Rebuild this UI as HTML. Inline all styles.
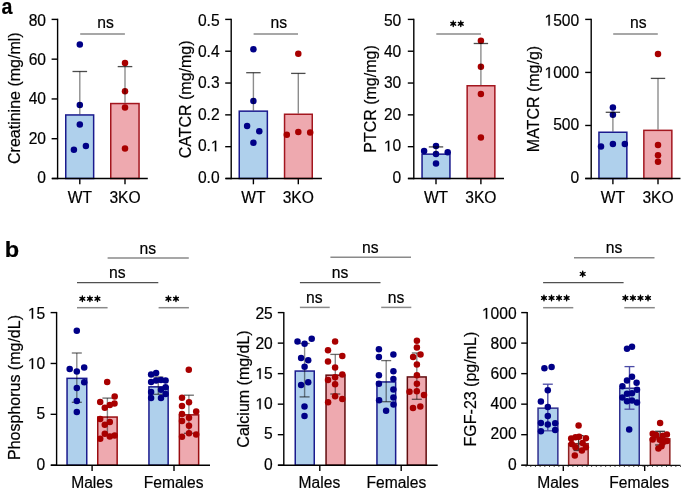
<!DOCTYPE html>
<html><head><meta charset="utf-8"><style>
html,body{margin:0;padding:0;background:#fff;}
svg{display:block;font-family:"Liberation Sans", sans-serif;will-change:transform;}
text{stroke:#000;stroke-width:0.2px;}
</style></head><body>
<svg width="685" height="492" viewBox="0 0 685 492">
<text x="0" y="0" font-size="21.3" font-weight="bold" transform="translate(1.5,14.0) scale(0.92,1)">a</text>
<text x="0" y="0" font-size="22" font-weight="bold" transform="translate(4.8,256.9) scale(1.07,1)">b</text>
<line x1="57.60" y1="18.70" x2="57.60" y2="179.20" stroke="#000" stroke-width="1.4" />
<line x1="51.60" y1="178.50" x2="57.60" y2="178.50" stroke="#000" stroke-width="1.4" />
<text x="46.00" y="182.80" font-size="15.6" text-anchor="end" >0</text>
<line x1="51.60" y1="138.72" x2="57.60" y2="138.72" stroke="#000" stroke-width="1.4" />
<text x="46.00" y="143.50" font-size="15.6" text-anchor="end" >20</text>
<line x1="51.60" y1="98.95" x2="57.60" y2="98.95" stroke="#000" stroke-width="1.4" />
<text x="46.00" y="104.20" font-size="15.6" text-anchor="end" >40</text>
<line x1="51.60" y1="59.17" x2="57.60" y2="59.17" stroke="#000" stroke-width="1.4" />
<text x="46.00" y="64.90" font-size="15.6" text-anchor="end" >60</text>
<line x1="51.60" y1="19.40" x2="57.60" y2="19.40" stroke="#000" stroke-width="1.4" />
<text x="46.00" y="25.60" font-size="15.6" text-anchor="end" >80</text>
<line x1="79.80" y1="178.50" x2="79.80" y2="184.30" stroke="#000" stroke-width="1.4" />
<line x1="125.00" y1="178.50" x2="125.00" y2="184.30" stroke="#000" stroke-width="1.4" />
<rect x="65.75" y="114.95" width="27.90" height="63.55" fill="#afd0ec" stroke="#1a1a8e" stroke-width="1.5"/>
<rect x="110.75" y="103.55" width="28.30" height="74.95" fill="#eea9af" stroke="#a3161e" stroke-width="1.5"/>
<circle cx="79.80" cy="44.60" r="3.25" fill="#000087"/>
<circle cx="79.80" cy="104.90" r="3.25" fill="#000087"/>
<circle cx="79.80" cy="124.40" r="3.25" fill="#000087"/>
<circle cx="73.90" cy="149.80" r="3.25" fill="#000087"/>
<circle cx="85.90" cy="146.10" r="3.25" fill="#000087"/>
<circle cx="125.00" cy="62.90" r="3.25" fill="#a80000"/>
<circle cx="125.00" cy="91.20" r="3.25" fill="#a80000"/>
<circle cx="125.00" cy="107.50" r="3.25" fill="#a80000"/>
<circle cx="125.00" cy="148.50" r="3.25" fill="#a80000"/>
<line x1="79.80" y1="71.50" x2="79.80" y2="114.20" stroke="rgba(0,0,0,0.45)" stroke-width="1.4" />
<line x1="72.50" y1="71.50" x2="87.10" y2="71.50" stroke="rgba(0,0,0,0.7)" stroke-width="1.3" />
<line x1="125.00" y1="66.60" x2="125.00" y2="102.80" stroke="rgba(0,0,0,0.45)" stroke-width="1.4" />
<line x1="117.70" y1="66.60" x2="132.30" y2="66.60" stroke="rgba(0,0,0,0.7)" stroke-width="1.3" />
<line x1="80.20" y1="33.90" x2="124.90" y2="33.90" stroke="#8a8a8a" stroke-width="1.5" />
<text x="105.50" y="28.20" font-size="15.7" text-anchor="middle" >ns</text>
<text x="79.80" y="202.60" font-size="15.6" text-anchor="middle" >WT</text>
<text x="125.00" y="202.60" font-size="15.6" text-anchor="middle" >3KO</text>
<text x="0" y="0" font-size="16.0" text-anchor="middle" transform="translate(20.30,98.20) rotate(-90)">Creatinine (mg/ml)</text>
<line x1="231.20" y1="18.70" x2="231.20" y2="179.20" stroke="#000" stroke-width="1.4" />
<line x1="225.20" y1="178.50" x2="231.20" y2="178.50" stroke="#000" stroke-width="1.4" />
<text x="219.60" y="182.80" font-size="15.6" text-anchor="end" >0.0</text>
<line x1="225.20" y1="146.68" x2="231.20" y2="146.68" stroke="#000" stroke-width="1.4" />
<path d="M214.85 151.36L214.85 141.94L212.42 143.67L212.42 142.37L214.96 140.63L216.23 140.63L216.23 151.36Z" fill="#000" stroke="#000" stroke-width="0.2"/>
<text x="219.60" y="151.36" font-size="15.6" text-anchor="end" >0.&#8199;</text>
<line x1="225.20" y1="114.86" x2="231.20" y2="114.86" stroke="#000" stroke-width="1.4" />
<text x="219.60" y="119.92" font-size="15.6" text-anchor="end" >0.2</text>
<line x1="225.20" y1="83.04" x2="231.20" y2="83.04" stroke="#000" stroke-width="1.4" />
<text x="219.60" y="88.48" font-size="15.6" text-anchor="end" >0.3</text>
<line x1="225.20" y1="51.22" x2="231.20" y2="51.22" stroke="#000" stroke-width="1.4" />
<text x="219.60" y="57.04" font-size="15.6" text-anchor="end" >0.4</text>
<line x1="225.20" y1="19.40" x2="231.20" y2="19.40" stroke="#000" stroke-width="1.4" />
<text x="219.60" y="25.60" font-size="15.6" text-anchor="end" >0.5</text>
<line x1="253.40" y1="178.50" x2="253.40" y2="184.30" stroke="#000" stroke-width="1.4" />
<line x1="298.30" y1="178.50" x2="298.30" y2="184.30" stroke="#000" stroke-width="1.4" />
<rect x="239.25" y="111.15" width="28.10" height="67.35" fill="#afd0ec" stroke="#1a1a8e" stroke-width="1.5"/>
<rect x="284.55" y="114.25" width="27.70" height="64.25" fill="#eea9af" stroke="#a3161e" stroke-width="1.5"/>
<circle cx="253.40" cy="49.30" r="3.25" fill="#000087"/>
<circle cx="253.40" cy="100.90" r="3.25" fill="#000087"/>
<circle cx="247.10" cy="126.10" r="3.25" fill="#000087"/>
<circle cx="259.30" cy="131.20" r="3.25" fill="#000087"/>
<circle cx="253.40" cy="142.70" r="3.25" fill="#000087"/>
<circle cx="298.30" cy="53.70" r="3.25" fill="#a80000"/>
<circle cx="286.80" cy="134.70" r="3.25" fill="#a80000"/>
<circle cx="298.30" cy="132.10" r="3.25" fill="#a80000"/>
<circle cx="310.20" cy="132.40" r="3.25" fill="#a80000"/>
<line x1="253.40" y1="72.70" x2="253.40" y2="110.40" stroke="rgba(0,0,0,0.45)" stroke-width="1.4" />
<line x1="246.20" y1="72.70" x2="260.60" y2="72.70" stroke="rgba(0,0,0,0.7)" stroke-width="1.3" />
<line x1="298.30" y1="73.40" x2="298.30" y2="113.50" stroke="rgba(0,0,0,0.45)" stroke-width="1.4" />
<line x1="291.10" y1="73.40" x2="305.50" y2="73.40" stroke="rgba(0,0,0,0.7)" stroke-width="1.3" />
<line x1="253.60" y1="34.10" x2="298.00" y2="34.10" stroke="#8a8a8a" stroke-width="1.5" />
<text x="278.80" y="28.20" font-size="15.7" text-anchor="middle" >ns</text>
<text x="253.40" y="202.60" font-size="15.6" text-anchor="middle" >WT</text>
<text x="298.30" y="202.60" font-size="15.6" text-anchor="middle" >3KO</text>
<text x="0" y="0" font-size="16.0" text-anchor="middle" transform="translate(191.30,99.40) rotate(-90)">CATCR (mg/mg)</text>
<line x1="413.80" y1="18.70" x2="413.80" y2="179.20" stroke="#000" stroke-width="1.4" />
<line x1="407.80" y1="178.50" x2="413.80" y2="178.50" stroke="#000" stroke-width="1.4" />
<text x="401.30" y="182.80" font-size="15.6" text-anchor="end" >0</text>
<line x1="407.80" y1="146.68" x2="413.80" y2="146.68" stroke="#000" stroke-width="1.4" />
<path d="M387.87 151.36L387.87 141.94L385.45 143.67L385.45 142.37L387.99 140.63L389.25 140.63L389.25 151.36Z" fill="#000" stroke="#000" stroke-width="0.2"/>
<text x="401.30" y="151.36" font-size="15.6" text-anchor="end" >&#8199;0</text>
<line x1="407.80" y1="114.86" x2="413.80" y2="114.86" stroke="#000" stroke-width="1.4" />
<text x="401.30" y="119.92" font-size="15.6" text-anchor="end" >20</text>
<line x1="407.80" y1="83.04" x2="413.80" y2="83.04" stroke="#000" stroke-width="1.4" />
<text x="401.30" y="88.48" font-size="15.6" text-anchor="end" >30</text>
<line x1="407.80" y1="51.22" x2="413.80" y2="51.22" stroke="#000" stroke-width="1.4" />
<text x="401.30" y="57.04" font-size="15.6" text-anchor="end" >40</text>
<line x1="407.80" y1="19.40" x2="413.80" y2="19.40" stroke="#000" stroke-width="1.4" />
<text x="401.30" y="25.60" font-size="15.6" text-anchor="end" >50</text>
<line x1="436.00" y1="178.50" x2="436.00" y2="184.30" stroke="#000" stroke-width="1.4" />
<line x1="480.90" y1="178.50" x2="480.90" y2="184.30" stroke="#000" stroke-width="1.4" />
<rect x="422.05" y="154.15" width="27.90" height="24.35" fill="#afd0ec" stroke="#1a1a8e" stroke-width="1.5"/>
<rect x="467.15" y="85.75" width="27.70" height="92.75" fill="#eea9af" stroke="#a3161e" stroke-width="1.5"/>
<circle cx="436.00" cy="145.90" r="3.25" fill="#000087"/>
<circle cx="424.10" cy="151.10" r="3.25" fill="#000087"/>
<circle cx="436.00" cy="153.90" r="3.25" fill="#000087"/>
<circle cx="447.70" cy="152.20" r="3.25" fill="#000087"/>
<circle cx="436.00" cy="163.50" r="3.25" fill="#000087"/>
<circle cx="480.90" cy="40.70" r="3.25" fill="#a80000"/>
<circle cx="480.90" cy="66.80" r="3.25" fill="#a80000"/>
<circle cx="480.90" cy="93.90" r="3.25" fill="#a80000"/>
<circle cx="480.90" cy="137.50" r="3.25" fill="#a80000"/>
<line x1="436.00" y1="146.90" x2="436.00" y2="153.40" stroke="rgba(0,0,0,0.45)" stroke-width="1.4" />
<line x1="428.80" y1="146.90" x2="443.20" y2="146.90" stroke="rgba(0,0,0,0.7)" stroke-width="1.3" />
<line x1="480.90" y1="43.50" x2="480.90" y2="85.00" stroke="rgba(0,0,0,0.45)" stroke-width="1.4" />
<line x1="473.70" y1="43.50" x2="488.10" y2="43.50" stroke="rgba(0,0,0,0.7)" stroke-width="1.3" />
<line x1="436.30" y1="34.10" x2="480.90" y2="34.10" stroke="#8a8a8a" stroke-width="1.5" />
<path d="M453.23 21.00L453.23 26.60M450.80 22.40L455.65 25.20M450.80 25.20L455.65 22.40" stroke="#000" stroke-width="1.35" stroke-linecap="round"/>
<circle cx="453.23" cy="23.80" r="1.65" fill="#000"/>
<path d="M460.78 21.00L460.78 26.60M458.35 22.40L463.20 25.20M458.35 25.20L463.20 22.40" stroke="#000" stroke-width="1.35" stroke-linecap="round"/>
<circle cx="460.78" cy="23.80" r="1.65" fill="#000"/>
<text x="436.00" y="202.60" font-size="15.6" text-anchor="middle" >WT</text>
<text x="480.90" y="202.60" font-size="15.6" text-anchor="middle" >3KO</text>
<text x="0" y="0" font-size="16.0" text-anchor="middle" transform="translate(376.00,99.00) rotate(-90)">PTCR (mg/mg)</text>
<line x1="591.20" y1="18.70" x2="591.20" y2="179.20" stroke="#000" stroke-width="1.4" />
<line x1="585.20" y1="178.50" x2="591.20" y2="178.50" stroke="#000" stroke-width="1.4" />
<text x="579.20" y="182.80" font-size="15.6" text-anchor="end" >0</text>
<line x1="585.20" y1="125.47" x2="591.20" y2="125.47" stroke="#000" stroke-width="1.4" />
<text x="579.20" y="130.40" font-size="15.6" text-anchor="end" >500</text>
<line x1="585.20" y1="72.43" x2="591.20" y2="72.43" stroke="#000" stroke-width="1.4" />
<path d="M548.42 78.00L548.42 68.58L546.00 70.31L546.00 69.01L548.53 67.27L549.80 67.27L549.80 78.00Z" fill="#000" stroke="#000" stroke-width="0.2"/>
<text x="579.20" y="78.00" font-size="15.6" text-anchor="end" >&#8199;000</text>
<line x1="585.20" y1="19.40" x2="591.20" y2="19.40" stroke="#000" stroke-width="1.4" />
<path d="M548.42 25.60L548.42 16.18L546.00 17.91L546.00 16.61L548.53 14.87L549.80 14.87L549.80 25.60Z" fill="#000" stroke="#000" stroke-width="0.2"/>
<text x="579.20" y="25.60" font-size="15.6" text-anchor="end" >&#8199;500</text>
<line x1="612.90" y1="178.50" x2="612.90" y2="184.30" stroke="#000" stroke-width="1.4" />
<line x1="658.00" y1="178.50" x2="658.00" y2="184.30" stroke="#000" stroke-width="1.4" />
<rect x="598.95" y="132.25" width="27.90" height="46.25" fill="#afd0ec" stroke="#1a1a8e" stroke-width="1.5"/>
<rect x="643.85" y="130.35" width="28.00" height="48.15" fill="#eea9af" stroke="#a3161e" stroke-width="1.5"/>
<circle cx="612.90" cy="107.40" r="3.25" fill="#000087"/>
<circle cx="612.90" cy="114.70" r="3.25" fill="#000087"/>
<circle cx="601.00" cy="146.60" r="3.25" fill="#000087"/>
<circle cx="612.90" cy="143.90" r="3.25" fill="#000087"/>
<circle cx="624.80" cy="144.10" r="3.25" fill="#000087"/>
<circle cx="658.00" cy="53.90" r="3.25" fill="#a80000"/>
<circle cx="658.00" cy="145.00" r="3.25" fill="#a80000"/>
<circle cx="658.00" cy="155.20" r="3.25" fill="#a80000"/>
<circle cx="658.00" cy="161.70" r="3.25" fill="#a80000"/>
<line x1="612.90" y1="112.30" x2="612.90" y2="131.50" stroke="rgba(0,0,0,0.45)" stroke-width="1.4" />
<line x1="605.70" y1="112.30" x2="620.10" y2="112.30" stroke="rgba(0,0,0,0.7)" stroke-width="1.3" />
<line x1="658.00" y1="78.40" x2="658.00" y2="129.60" stroke="rgba(0,0,0,0.45)" stroke-width="1.4" />
<line x1="650.80" y1="78.40" x2="665.20" y2="78.40" stroke="rgba(0,0,0,0.7)" stroke-width="1.3" />
<line x1="613.20" y1="33.90" x2="657.80" y2="33.90" stroke="#8a8a8a" stroke-width="1.5" />
<text x="638.40" y="28.20" font-size="15.7" text-anchor="middle" >ns</text>
<text x="612.90" y="202.60" font-size="15.6" text-anchor="middle" >WT</text>
<text x="658.00" y="202.60" font-size="15.6" text-anchor="middle" >3KO</text>
<text x="0" y="0" font-size="16.0" text-anchor="middle" transform="translate(538.50,99.00) rotate(-90)">MATCR (mg/g)</text>
<line x1="56.60" y1="311.90" x2="56.60" y2="465.90" stroke="#000" stroke-width="1.4" />
<line x1="50.60" y1="465.20" x2="56.60" y2="465.20" stroke="#000" stroke-width="1.4" />
<text x="45.20" y="469.50" font-size="15.6" text-anchor="end" >0</text>
<line x1="50.60" y1="414.33" x2="56.60" y2="414.33" stroke="#000" stroke-width="1.4" />
<text x="45.20" y="419.27" font-size="15.6" text-anchor="end" >5</text>
<line x1="50.60" y1="363.47" x2="56.60" y2="363.47" stroke="#000" stroke-width="1.4" />
<path d="M31.77 369.03L31.77 359.61L29.35 361.34L29.35 360.05L31.89 358.30L33.15 358.30L33.15 369.03Z" fill="#000" stroke="#000" stroke-width="0.2"/>
<text x="45.20" y="369.03" font-size="15.6" text-anchor="end" >&#8199;0</text>
<line x1="50.60" y1="312.60" x2="56.60" y2="312.60" stroke="#000" stroke-width="1.4" />
<path d="M31.77 318.80L31.77 309.38L29.35 311.11L29.35 309.81L31.89 308.07L33.15 308.07L33.15 318.80Z" fill="#000" stroke="#000" stroke-width="0.2"/>
<text x="45.20" y="318.80" font-size="15.6" text-anchor="end" >&#8199;5</text>
<line x1="92.10" y1="465.20" x2="92.10" y2="470.90" stroke="#000" stroke-width="1.4" />
<line x1="174.00" y1="465.20" x2="174.00" y2="470.90" stroke="#000" stroke-width="1.4" />
<rect x="67.05" y="378.35" width="19.70" height="86.85" fill="#afd0ec" stroke="#1a1a8e" stroke-width="1.5"/>
<rect x="97.75" y="417.05" width="19.40" height="48.15" fill="#eea9af" stroke="#9a0c10" stroke-width="1.5"/>
<rect x="148.95" y="386.85" width="19.20" height="78.35" fill="#afd0ec" stroke="#1a1a8e" stroke-width="1.5"/>
<rect x="179.35" y="414.85" width="19.30" height="50.35" fill="#eea9af" stroke="#9a0c10" stroke-width="1.5"/>
<line x1="76.80" y1="353.00" x2="76.80" y2="402.30" stroke="rgba(0,0,0,0.45)" stroke-width="1.4" />
<line x1="71.80" y1="353.00" x2="81.80" y2="353.00" stroke="rgba(0,0,0,0.58)" stroke-width="1.3" />
<line x1="71.80" y1="402.30" x2="81.80" y2="402.30" stroke="rgba(0,0,0,0.58)" stroke-width="1.3" />
<line x1="107.40" y1="398.10" x2="107.40" y2="434.50" stroke="rgba(0,0,0,0.45)" stroke-width="1.4" />
<line x1="102.40" y1="398.10" x2="112.40" y2="398.10" stroke="rgba(0,0,0,0.58)" stroke-width="1.3" />
<line x1="102.40" y1="434.50" x2="112.40" y2="434.50" stroke="rgba(0,0,0,0.58)" stroke-width="1.3" />
<line x1="158.30" y1="377.00" x2="158.30" y2="394.30" stroke="rgba(0,0,0,0.45)" stroke-width="1.4" />
<line x1="153.30" y1="377.00" x2="163.30" y2="377.00" stroke="rgba(0,0,0,0.58)" stroke-width="1.3" />
<line x1="153.30" y1="394.30" x2="163.30" y2="394.30" stroke="rgba(0,0,0,0.58)" stroke-width="1.3" />
<line x1="188.90" y1="395.20" x2="188.90" y2="433.30" stroke="rgba(0,0,0,0.45)" stroke-width="1.4" />
<line x1="183.90" y1="395.20" x2="193.90" y2="395.20" stroke="rgba(0,0,0,0.58)" stroke-width="1.3" />
<line x1="183.90" y1="433.30" x2="193.90" y2="433.30" stroke="rgba(0,0,0,0.58)" stroke-width="1.3" />
<circle cx="76.80" cy="330.70" r="3.25" fill="#000087"/>
<circle cx="69.70" cy="369.10" r="3.25" fill="#000087"/>
<circle cx="84.20" cy="367.40" r="3.25" fill="#000087"/>
<circle cx="76.80" cy="371.50" r="3.25" fill="#000087"/>
<circle cx="84.20" cy="382.30" r="3.25" fill="#000087"/>
<circle cx="76.80" cy="388.00" r="3.25" fill="#000087"/>
<circle cx="76.80" cy="400.90" r="3.25" fill="#000087"/>
<circle cx="76.80" cy="412.10" r="3.25" fill="#000087"/>
<circle cx="107.20" cy="382.00" r="3.25" fill="#a80000"/>
<circle cx="114.70" cy="396.40" r="3.25" fill="#a80000"/>
<circle cx="100.20" cy="402.00" r="3.25" fill="#a80000"/>
<circle cx="109.80" cy="404.90" r="3.25" fill="#a80000"/>
<circle cx="114.50" cy="403.50" r="3.25" fill="#a80000"/>
<circle cx="104.80" cy="407.70" r="3.25" fill="#a80000"/>
<circle cx="100.20" cy="419.10" r="3.25" fill="#a80000"/>
<circle cx="109.80" cy="422.00" r="3.25" fill="#a80000"/>
<circle cx="104.80" cy="424.80" r="3.25" fill="#a80000"/>
<circle cx="104.80" cy="433.80" r="3.25" fill="#a80000"/>
<circle cx="109.80" cy="436.60" r="3.25" fill="#a80000"/>
<circle cx="114.70" cy="435.50" r="3.25" fill="#a80000"/>
<circle cx="100.20" cy="438.70" r="3.25" fill="#a80000"/>
<circle cx="151.10" cy="374.40" r="3.25" fill="#000087"/>
<circle cx="156.10" cy="373.00" r="3.25" fill="#000087"/>
<circle cx="151.10" cy="381.90" r="3.25" fill="#000087"/>
<circle cx="156.10" cy="380.50" r="3.25" fill="#000087"/>
<circle cx="161.00" cy="380.10" r="3.25" fill="#000087"/>
<circle cx="165.60" cy="380.50" r="3.25" fill="#000087"/>
<circle cx="165.60" cy="387.30" r="3.25" fill="#000087"/>
<circle cx="151.10" cy="392.00" r="3.25" fill="#000087"/>
<circle cx="161.00" cy="389.80" r="3.25" fill="#000087"/>
<circle cx="165.60" cy="394.10" r="3.25" fill="#000087"/>
<circle cx="151.10" cy="397.90" r="3.25" fill="#000087"/>
<circle cx="161.00" cy="397.90" r="3.25" fill="#000087"/>
<circle cx="188.80" cy="369.80" r="3.25" fill="#a80000"/>
<circle cx="182.00" cy="397.70" r="3.25" fill="#a80000"/>
<circle cx="189.00" cy="402.30" r="3.25" fill="#a80000"/>
<circle cx="182.00" cy="405.90" r="3.25" fill="#a80000"/>
<circle cx="196.20" cy="411.60" r="3.25" fill="#a80000"/>
<circle cx="182.00" cy="414.10" r="3.25" fill="#a80000"/>
<circle cx="189.00" cy="417.70" r="3.25" fill="#a80000"/>
<circle cx="182.00" cy="421.00" r="3.25" fill="#a80000"/>
<circle cx="189.00" cy="425.80" r="3.25" fill="#a80000"/>
<circle cx="189.00" cy="433.30" r="3.25" fill="#a80000"/>
<circle cx="196.20" cy="434.60" r="3.25" fill="#a80000"/>
<circle cx="182.00" cy="436.70" r="3.25" fill="#a80000"/>
<line x1="107.60" y1="258.10" x2="188.80" y2="258.10" stroke="#8a8a8a" stroke-width="1.5" />
<text x="147.80" y="253.60" font-size="15.7" text-anchor="middle" >ns</text>
<line x1="77.00" y1="282.60" x2="158.30" y2="282.60" stroke="#505050" stroke-width="1.1" />
<text x="117.40" y="277.90" font-size="15.7" text-anchor="middle" >ns</text>
<line x1="77.00" y1="307.70" x2="107.60" y2="307.70" stroke="#8a8a8a" stroke-width="1.5" />
<path d="M82.35 296.00L82.35 301.60M79.93 297.40L84.77 300.20M79.93 300.20L84.77 297.40" stroke="#000" stroke-width="1.35" stroke-linecap="round"/>
<circle cx="82.35" cy="298.80" r="1.65" fill="#000"/>
<path d="M89.90 296.00L89.90 301.60M87.48 297.40L92.32 300.20M87.48 300.20L92.32 297.40" stroke="#000" stroke-width="1.35" stroke-linecap="round"/>
<circle cx="89.90" cy="298.80" r="1.65" fill="#000"/>
<path d="M97.45 296.00L97.45 301.60M95.03 297.40L99.87 300.20M95.03 300.20L99.87 297.40" stroke="#000" stroke-width="1.35" stroke-linecap="round"/>
<circle cx="97.45" cy="298.80" r="1.65" fill="#000"/>
<line x1="158.60" y1="307.70" x2="188.90" y2="307.70" stroke="#8a8a8a" stroke-width="1.5" />
<path d="M168.42 296.00L168.42 301.60M166.00 297.40L170.85 300.20M166.00 300.20L170.85 297.40" stroke="#000" stroke-width="1.35" stroke-linecap="round"/>
<circle cx="168.42" cy="298.80" r="1.65" fill="#000"/>
<path d="M175.97 296.00L175.97 301.60M173.55 297.40L178.40 300.20M173.55 300.20L178.40 297.40" stroke="#000" stroke-width="1.35" stroke-linecap="round"/>
<circle cx="175.97" cy="298.80" r="1.65" fill="#000"/>
<text x="92.00" y="487.50" font-size="15.6" text-anchor="middle" >Males</text>
<text x="173.60" y="487.50" font-size="15.6" text-anchor="middle" >Females</text>
<text x="0" y="0" font-size="16.0" text-anchor="middle" transform="translate(20.30,387.50) rotate(-90)">Phosphorus (mg/dL)</text>
<line x1="283.80" y1="311.90" x2="283.80" y2="465.90" stroke="#000" stroke-width="1.4" />
<line x1="277.80" y1="465.20" x2="283.80" y2="465.20" stroke="#000" stroke-width="1.4" />
<text x="272.80" y="469.50" font-size="15.6" text-anchor="end" >0</text>
<line x1="277.80" y1="434.68" x2="283.80" y2="434.68" stroke="#000" stroke-width="1.4" />
<text x="272.80" y="439.36" font-size="15.6" text-anchor="end" >5</text>
<line x1="277.80" y1="404.16" x2="283.80" y2="404.16" stroke="#000" stroke-width="1.4" />
<path d="M259.37 409.22L259.37 399.80L256.95 401.53L256.95 400.23L259.49 398.49L260.75 398.49L260.75 409.22Z" fill="#000" stroke="#000" stroke-width="0.2"/>
<text x="272.80" y="409.22" font-size="15.6" text-anchor="end" >&#8199;0</text>
<line x1="277.80" y1="373.64" x2="283.80" y2="373.64" stroke="#000" stroke-width="1.4" />
<path d="M259.37 379.08L259.37 369.66L256.95 371.39L256.95 370.09L259.49 368.35L260.75 368.35L260.75 379.08Z" fill="#000" stroke="#000" stroke-width="0.2"/>
<text x="272.80" y="379.08" font-size="15.6" text-anchor="end" >&#8199;5</text>
<line x1="277.80" y1="343.12" x2="283.80" y2="343.12" stroke="#000" stroke-width="1.4" />
<text x="272.80" y="348.94" font-size="15.6" text-anchor="end" >20</text>
<line x1="277.80" y1="312.60" x2="283.80" y2="312.60" stroke="#000" stroke-width="1.4" />
<text x="272.80" y="318.80" font-size="15.6" text-anchor="end" >25</text>
<line x1="319.80" y1="465.20" x2="319.80" y2="470.90" stroke="#000" stroke-width="1.4" />
<line x1="401.20" y1="465.20" x2="401.20" y2="470.90" stroke="#000" stroke-width="1.4" />
<rect x="295.25" y="371.05" width="19.00" height="94.15" fill="#afd0ec" stroke="#1a1a8e" stroke-width="1.5"/>
<rect x="326.05" y="375.15" width="18.90" height="90.05" fill="#eea9af" stroke="#620c0e" stroke-width="1.5"/>
<rect x="376.95" y="381.95" width="18.70" height="83.25" fill="#afd0ec" stroke="#1a1a8e" stroke-width="1.5"/>
<rect x="407.35" y="376.95" width="18.80" height="88.25" fill="#eea9af" stroke="#620c0e" stroke-width="1.5"/>
<line x1="304.60" y1="343.50" x2="304.60" y2="396.90" stroke="rgba(0,0,0,0.45)" stroke-width="1.4" />
<line x1="299.60" y1="343.50" x2="309.60" y2="343.50" stroke="rgba(0,0,0,0.58)" stroke-width="1.3" />
<line x1="299.60" y1="396.90" x2="309.60" y2="396.90" stroke="rgba(0,0,0,0.58)" stroke-width="1.3" />
<line x1="335.30" y1="354.40" x2="335.30" y2="394.00" stroke="rgba(0,0,0,0.45)" stroke-width="1.4" />
<line x1="330.30" y1="354.40" x2="340.30" y2="354.40" stroke="rgba(0,0,0,0.58)" stroke-width="1.3" />
<line x1="330.30" y1="394.00" x2="340.30" y2="394.00" stroke="rgba(0,0,0,0.58)" stroke-width="1.3" />
<line x1="386.20" y1="360.60" x2="386.20" y2="401.70" stroke="rgba(0,0,0,0.45)" stroke-width="1.4" />
<line x1="381.20" y1="360.60" x2="391.20" y2="360.60" stroke="rgba(0,0,0,0.58)" stroke-width="1.3" />
<line x1="381.20" y1="401.70" x2="391.20" y2="401.70" stroke="rgba(0,0,0,0.58)" stroke-width="1.3" />
<line x1="416.80" y1="353.00" x2="416.80" y2="399.30" stroke="rgba(0,0,0,0.45)" stroke-width="1.4" />
<line x1="411.80" y1="353.00" x2="421.80" y2="353.00" stroke="rgba(0,0,0,0.58)" stroke-width="1.3" />
<line x1="411.80" y1="399.30" x2="421.80" y2="399.30" stroke="rgba(0,0,0,0.58)" stroke-width="1.3" />
<circle cx="297.50" cy="341.40" r="3.25" fill="#000087"/>
<circle cx="304.60" cy="343.80" r="3.25" fill="#000087"/>
<circle cx="311.70" cy="338.80" r="3.25" fill="#000087"/>
<circle cx="301.10" cy="358.00" r="3.25" fill="#000087"/>
<circle cx="308.20" cy="360.20" r="3.25" fill="#000087"/>
<circle cx="304.60" cy="366.70" r="3.25" fill="#000087"/>
<circle cx="308.20" cy="382.20" r="3.25" fill="#000087"/>
<circle cx="301.10" cy="385.00" r="3.25" fill="#000087"/>
<circle cx="304.50" cy="406.60" r="3.25" fill="#000087"/>
<circle cx="304.50" cy="416.00" r="3.25" fill="#000087"/>
<circle cx="335.10" cy="341.40" r="3.25" fill="#a80000"/>
<circle cx="328.00" cy="350.20" r="3.25" fill="#a80000"/>
<circle cx="342.30" cy="355.90" r="3.25" fill="#a80000"/>
<circle cx="328.00" cy="361.60" r="3.25" fill="#a80000"/>
<circle cx="335.10" cy="367.40" r="3.25" fill="#a80000"/>
<circle cx="342.30" cy="374.40" r="3.25" fill="#a80000"/>
<circle cx="335.10" cy="377.20" r="3.25" fill="#a80000"/>
<circle cx="328.00" cy="380.10" r="3.25" fill="#a80000"/>
<circle cx="335.10" cy="384.30" r="3.25" fill="#a80000"/>
<circle cx="335.10" cy="396.30" r="3.25" fill="#a80000"/>
<circle cx="342.30" cy="399.00" r="3.25" fill="#a80000"/>
<circle cx="328.10" cy="402.20" r="3.25" fill="#a80000"/>
<circle cx="378.90" cy="349.20" r="3.25" fill="#000087"/>
<circle cx="378.90" cy="357.00" r="3.25" fill="#000087"/>
<circle cx="393.40" cy="354.50" r="3.25" fill="#000087"/>
<circle cx="378.90" cy="375.20" r="3.25" fill="#000087"/>
<circle cx="393.40" cy="371.30" r="3.25" fill="#000087"/>
<circle cx="393.40" cy="379.10" r="3.25" fill="#000087"/>
<circle cx="378.90" cy="383.80" r="3.25" fill="#000087"/>
<circle cx="393.40" cy="389.50" r="3.25" fill="#000087"/>
<circle cx="393.40" cy="397.60" r="3.25" fill="#000087"/>
<circle cx="379.10" cy="400.20" r="3.25" fill="#000087"/>
<circle cx="393.50" cy="404.60" r="3.25" fill="#000087"/>
<circle cx="386.10" cy="410.80" r="3.25" fill="#000087"/>
<circle cx="416.90" cy="340.70" r="3.25" fill="#a80000"/>
<circle cx="416.90" cy="347.40" r="3.25" fill="#a80000"/>
<circle cx="413.10" cy="357.00" r="3.25" fill="#a80000"/>
<circle cx="420.50" cy="354.50" r="3.25" fill="#a80000"/>
<circle cx="416.90" cy="364.40" r="3.25" fill="#a80000"/>
<circle cx="416.90" cy="375.20" r="3.25" fill="#a80000"/>
<circle cx="416.90" cy="383.80" r="3.25" fill="#a80000"/>
<circle cx="409.50" cy="391.70" r="3.25" fill="#a80000"/>
<circle cx="416.80" cy="391.30" r="3.25" fill="#a80000"/>
<circle cx="424.00" cy="395.10" r="3.25" fill="#a80000"/>
<circle cx="413.00" cy="407.90" r="3.25" fill="#a80000"/>
<circle cx="420.30" cy="406.60" r="3.25" fill="#a80000"/>
<line x1="330.40" y1="257.20" x2="411.00" y2="257.20" stroke="#8a8a8a" stroke-width="1.5" />
<text x="370.20" y="252.60" font-size="15.7" text-anchor="middle" >ns</text>
<line x1="299.90" y1="282.60" x2="380.50" y2="282.60" stroke="#505050" stroke-width="1.1" />
<text x="340.00" y="277.80" font-size="15.7" text-anchor="middle" >ns</text>
<line x1="299.90" y1="307.40" x2="329.70" y2="307.40" stroke="#8a8a8a" stroke-width="1.5" />
<text x="314.40" y="302.80" font-size="15.7" text-anchor="middle" >ns</text>
<line x1="381.20" y1="307.40" x2="411.30" y2="307.40" stroke="#8a8a8a" stroke-width="1.5" />
<text x="396.10" y="302.80" font-size="15.7" text-anchor="middle" >ns</text>
<text x="319.40" y="487.50" font-size="15.6" text-anchor="middle" >Males</text>
<text x="396.40" y="487.50" font-size="15.6" text-anchor="middle" >Females</text>
<text x="0" y="0" font-size="16.0" text-anchor="middle" transform="translate(248.80,389.00) rotate(-90)">Calcium (mg/dL)</text>
<line x1="527.20" y1="311.90" x2="527.20" y2="465.90" stroke="#000" stroke-width="1.4" />
<line x1="521.20" y1="465.20" x2="527.20" y2="465.20" stroke="#000" stroke-width="1.4" />
<text x="516.60" y="469.50" font-size="15.6" text-anchor="end" >0</text>
<line x1="521.20" y1="434.68" x2="527.20" y2="434.68" stroke="#000" stroke-width="1.4" />
<text x="516.60" y="439.36" font-size="15.6" text-anchor="end" >200</text>
<line x1="521.20" y1="404.16" x2="527.20" y2="404.16" stroke="#000" stroke-width="1.4" />
<text x="516.60" y="409.22" font-size="15.6" text-anchor="end" >400</text>
<line x1="521.20" y1="373.64" x2="527.20" y2="373.64" stroke="#000" stroke-width="1.4" />
<text x="516.60" y="379.08" font-size="15.6" text-anchor="end" >600</text>
<line x1="521.20" y1="343.12" x2="527.20" y2="343.12" stroke="#000" stroke-width="1.4" />
<text x="516.60" y="348.94" font-size="15.6" text-anchor="end" >800</text>
<line x1="521.20" y1="312.60" x2="527.20" y2="312.60" stroke="#000" stroke-width="1.4" />
<path d="M485.82 318.80L485.82 309.38L483.40 311.11L483.40 309.81L485.93 308.07L487.20 308.07L487.20 318.80Z" fill="#000" stroke="#000" stroke-width="0.2"/>
<text x="516.60" y="318.80" font-size="15.6" text-anchor="end" >&#8199;000</text>
<line x1="563.30" y1="465.20" x2="563.30" y2="470.90" stroke="#000" stroke-width="1.4" />
<line x1="644.70" y1="465.20" x2="644.70" y2="470.90" stroke="#000" stroke-width="1.4" />
<rect x="538.05" y="408.15" width="19.80" height="57.05" fill="#afd0ec" stroke="#30308f" stroke-width="1.5"/>
<rect x="568.65" y="443.65" width="19.50" height="21.55" fill="#eea9af" stroke="#8e2020" stroke-width="1.5"/>
<rect x="619.75" y="388.25" width="19.50" height="76.95" fill="#afd0ec" stroke="#30308f" stroke-width="1.5"/>
<rect x="650.35" y="438.85" width="19.50" height="26.35" fill="#eea9af" stroke="#8e2020" stroke-width="1.5"/>
<line x1="547.80" y1="384.20" x2="547.80" y2="430.80" stroke="#4b4ba6" stroke-width="1.4" />
<line x1="542.80" y1="384.20" x2="552.80" y2="384.20" stroke="#4b4ba6" stroke-width="1.3" />
<line x1="542.80" y1="430.80" x2="552.80" y2="430.80" stroke="#4b4ba6" stroke-width="1.3" />
<line x1="578.60" y1="435.60" x2="578.60" y2="450.50" stroke="#3a3a3a" stroke-width="1.4" />
<line x1="573.60" y1="435.60" x2="583.60" y2="435.60" stroke="#3a3a3a" stroke-width="1.3" />
<line x1="573.60" y1="450.50" x2="583.60" y2="450.50" stroke="#3a3a3a" stroke-width="1.3" />
<line x1="629.50" y1="366.60" x2="629.50" y2="409.20" stroke="#4b4ba6" stroke-width="1.4" />
<line x1="624.50" y1="366.60" x2="634.50" y2="366.60" stroke="#4b4ba6" stroke-width="1.3" />
<line x1="624.50" y1="409.20" x2="634.50" y2="409.20" stroke="#4b4ba6" stroke-width="1.3" />
<line x1="660.10" y1="431.30" x2="660.10" y2="445.00" stroke="#3a3a3a" stroke-width="1.4" />
<line x1="655.10" y1="431.30" x2="665.10" y2="431.30" stroke="#3a3a3a" stroke-width="1.3" />
<line x1="655.10" y1="445.00" x2="665.10" y2="445.00" stroke="#3a3a3a" stroke-width="1.3" />
<circle cx="544.40" cy="368.30" r="3.25" fill="#000087"/>
<circle cx="551.60" cy="367.00" r="3.25" fill="#000087"/>
<circle cx="547.80" cy="390.20" r="3.25" fill="#000087"/>
<circle cx="540.90" cy="401.50" r="3.25" fill="#000087"/>
<circle cx="547.80" cy="406.90" r="3.25" fill="#000087"/>
<circle cx="547.80" cy="416.10" r="3.25" fill="#000087"/>
<circle cx="540.90" cy="423.00" r="3.25" fill="#000087"/>
<circle cx="547.80" cy="424.60" r="3.25" fill="#000087"/>
<circle cx="555.20" cy="423.30" r="3.25" fill="#000087"/>
<circle cx="540.90" cy="431.30" r="3.25" fill="#000087"/>
<circle cx="555.20" cy="429.90" r="3.25" fill="#000087"/>
<circle cx="578.60" cy="425.40" r="3.25" fill="#a80000"/>
<circle cx="571.20" cy="438.40" r="3.25" fill="#a80000"/>
<circle cx="575.50" cy="437.30" r="3.25" fill="#a80000"/>
<circle cx="579.10" cy="436.70" r="3.25" fill="#a80000"/>
<circle cx="585.90" cy="438.20" r="3.25" fill="#a80000"/>
<circle cx="582.60" cy="443.00" r="3.25" fill="#a80000"/>
<circle cx="571.70" cy="444.10" r="3.25" fill="#a80000"/>
<circle cx="575.50" cy="447.30" r="3.25" fill="#a80000"/>
<circle cx="585.90" cy="447.30" r="3.25" fill="#a80000"/>
<circle cx="581.90" cy="450.50" r="3.25" fill="#a80000"/>
<circle cx="574.80" cy="455.50" r="3.25" fill="#a80000"/>
<circle cx="627.00" cy="348.80" r="3.25" fill="#000087"/>
<circle cx="632.00" cy="346.80" r="3.25" fill="#000087"/>
<circle cx="632.00" cy="376.70" r="3.25" fill="#000087"/>
<circle cx="627.00" cy="380.50" r="3.25" fill="#000087"/>
<circle cx="636.60" cy="382.70" r="3.25" fill="#000087"/>
<circle cx="622.40" cy="386.20" r="3.25" fill="#000087"/>
<circle cx="637.00" cy="389.80" r="3.25" fill="#000087"/>
<circle cx="627.00" cy="393.80" r="3.25" fill="#000087"/>
<circle cx="632.00" cy="393.30" r="3.25" fill="#000087"/>
<circle cx="622.40" cy="397.60" r="3.25" fill="#000087"/>
<circle cx="627.00" cy="401.20" r="3.25" fill="#000087"/>
<circle cx="632.00" cy="400.50" r="3.25" fill="#000087"/>
<circle cx="637.00" cy="402.60" r="3.25" fill="#000087"/>
<circle cx="629.20" cy="429.40" r="3.25" fill="#000087"/>
<circle cx="660.10" cy="423.00" r="3.25" fill="#a80000"/>
<circle cx="652.70" cy="433.70" r="3.25" fill="#a80000"/>
<circle cx="666.90" cy="434.40" r="3.25" fill="#a80000"/>
<circle cx="656.20" cy="434.90" r="3.25" fill="#a80000"/>
<circle cx="662.90" cy="435.80" r="3.25" fill="#a80000"/>
<circle cx="652.70" cy="439.50" r="3.25" fill="#a80000"/>
<circle cx="659.80" cy="439.80" r="3.25" fill="#a80000"/>
<circle cx="666.90" cy="441.00" r="3.25" fill="#a80000"/>
<circle cx="663.30" cy="442.00" r="3.25" fill="#a80000"/>
<circle cx="658.40" cy="448.40" r="3.25" fill="#a80000"/>
<circle cx="661.50" cy="446.20" r="3.25" fill="#a80000"/>
<line x1="574.00" y1="257.80" x2="654.50" y2="257.80" stroke="#8a8a8a" stroke-width="1.5" />
<text x="614.10" y="253.30" font-size="15.7" text-anchor="middle" >ns</text>
<line x1="543.10" y1="282.60" x2="623.60" y2="282.60" stroke="#505050" stroke-width="1.1" />
<path d="M582.70 271.10L582.70 276.70M580.28 272.50L585.12 275.30M580.28 275.30L585.12 272.50" stroke="#000" stroke-width="1.35" stroke-linecap="round"/>
<circle cx="582.70" cy="273.90" r="1.65" fill="#000"/>
<line x1="543.10" y1="307.70" x2="573.30" y2="307.70" stroke="#8a8a8a" stroke-width="1.5" />
<path d="M543.97 295.20L543.97 300.80M541.55 296.60L546.40 299.40M541.55 299.40L546.40 296.60" stroke="#000" stroke-width="1.35" stroke-linecap="round"/>
<circle cx="543.97" cy="298.00" r="1.65" fill="#000"/>
<path d="M551.52 295.20L551.52 300.80M549.10 296.60L553.95 299.40M549.10 299.40L553.95 296.60" stroke="#000" stroke-width="1.35" stroke-linecap="round"/>
<circle cx="551.52" cy="298.00" r="1.65" fill="#000"/>
<path d="M559.07 295.20L559.07 300.80M556.65 296.60L561.50 299.40M556.65 299.40L561.50 296.60" stroke="#000" stroke-width="1.35" stroke-linecap="round"/>
<circle cx="559.07" cy="298.00" r="1.65" fill="#000"/>
<path d="M566.62 295.20L566.62 300.80M564.20 296.60L569.05 299.40M564.20 299.40L569.05 296.60" stroke="#000" stroke-width="1.35" stroke-linecap="round"/>
<circle cx="566.62" cy="298.00" r="1.65" fill="#000"/>
<line x1="624.30" y1="307.70" x2="654.80" y2="307.70" stroke="#8a8a8a" stroke-width="1.5" />
<path d="M625.38 295.20L625.38 300.80M622.95 296.60L627.80 299.40M622.95 299.40L627.80 296.60" stroke="#000" stroke-width="1.35" stroke-linecap="round"/>
<circle cx="625.38" cy="298.00" r="1.65" fill="#000"/>
<path d="M632.92 295.20L632.92 300.80M630.50 296.60L635.35 299.40M630.50 299.40L635.35 296.60" stroke="#000" stroke-width="1.35" stroke-linecap="round"/>
<circle cx="632.92" cy="298.00" r="1.65" fill="#000"/>
<path d="M640.48 295.20L640.48 300.80M638.05 296.60L642.90 299.40M638.05 299.40L642.90 296.60" stroke="#000" stroke-width="1.35" stroke-linecap="round"/>
<circle cx="640.48" cy="298.00" r="1.65" fill="#000"/>
<path d="M648.02 295.20L648.02 300.80M645.60 296.60L650.45 299.40M645.60 299.40L650.45 296.60" stroke="#000" stroke-width="1.35" stroke-linecap="round"/>
<circle cx="648.02" cy="298.00" r="1.65" fill="#000"/>
<text x="558.00" y="487.50" font-size="15.6" text-anchor="middle" >Males</text>
<text x="639.20" y="487.50" font-size="15.6" text-anchor="middle" >Females</text>
<text x="0" y="0" font-size="16.0" text-anchor="middle" transform="translate(476.40,389.10) rotate(-90)">FGF-23 (pg/mL)</text>
<line x1="52.00" y1="178.50" x2="147.80" y2="178.50" stroke="#000" stroke-width="1.4"/>
<line x1="225.60" y1="178.50" x2="321.90" y2="178.50" stroke="#000" stroke-width="1.4"/>
<line x1="408.00" y1="178.50" x2="504.00" y2="178.50" stroke="#000" stroke-width="1.4"/>
<line x1="585.20" y1="178.50" x2="680.50" y2="178.50" stroke="#000" stroke-width="1.4"/>
<line x1="51.00" y1="465.20" x2="210.00" y2="465.20" stroke="#000" stroke-width="1.4"/>
<line x1="278.20" y1="465.20" x2="437.70" y2="465.20" stroke="#000" stroke-width="1.4"/>
<line x1="521.60" y1="465.40" x2="680.50" y2="465.40" stroke="#111" stroke-width="1.2"/>
<line x1="525.6" y1="466.4" x2="681" y2="466.4" stroke="#333" stroke-width="1" stroke-dasharray="1 3.68"/>
</svg></body></html>
